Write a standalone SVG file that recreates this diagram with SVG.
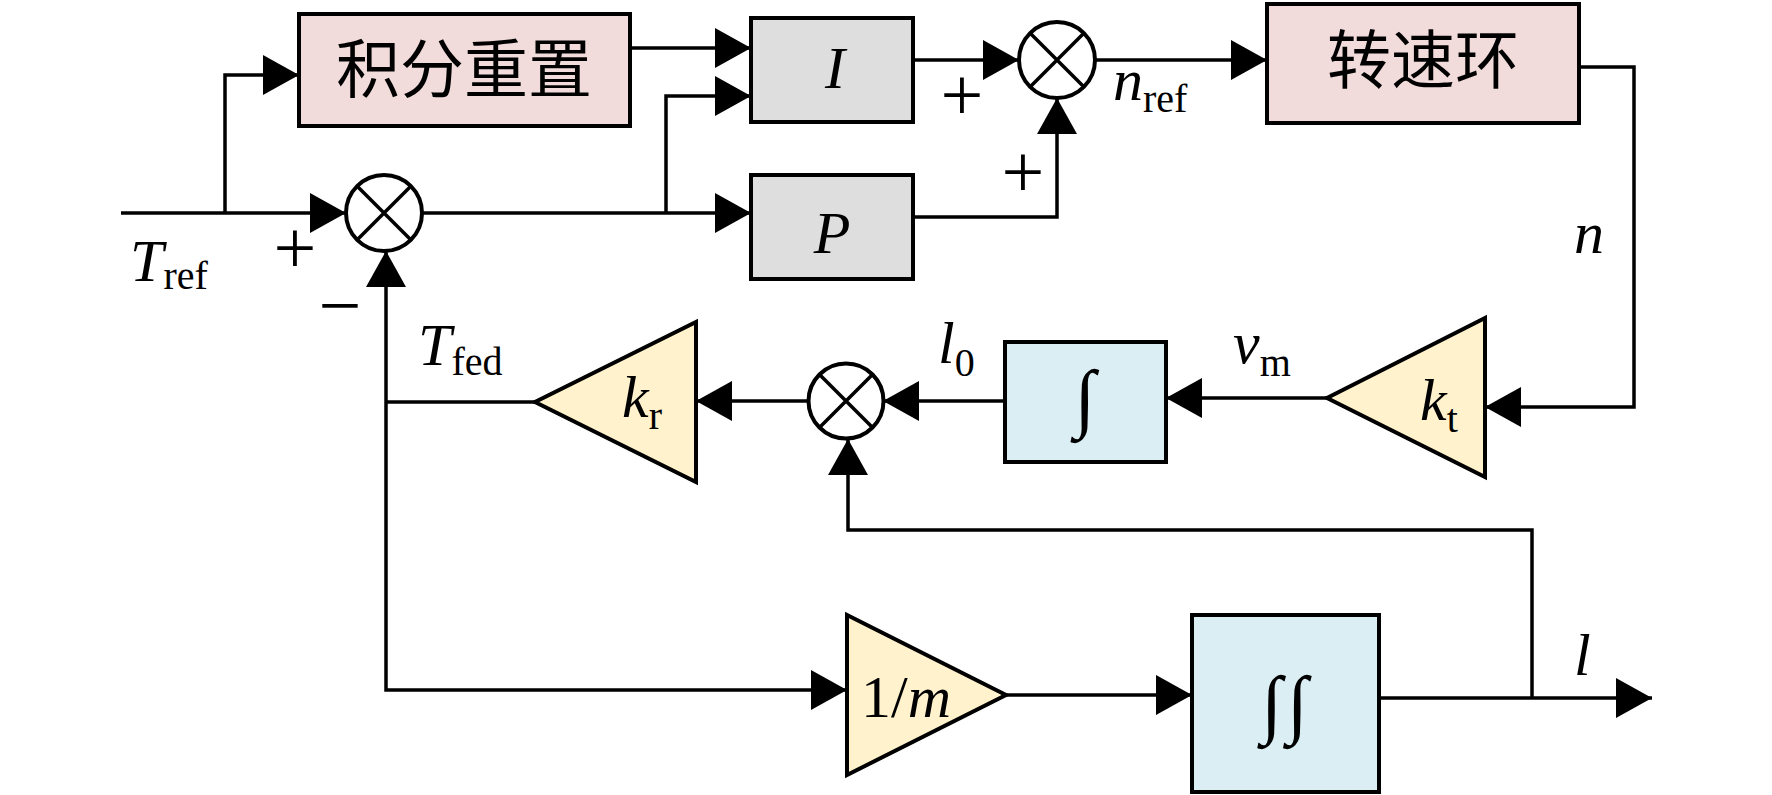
<svg xmlns="http://www.w3.org/2000/svg" width="1772" height="795" viewBox="0 0 1772 795">
<style>
.box{stroke:#000;stroke-width:4}
.pink{fill:#f2dcdb}
.gray{fill:#dedede}
.blue{fill:#daeef3}
.yel{fill:#fff2cc}
.ln{fill:none;stroke:#000;stroke-width:3.5;marker-end:url(#ah)}
.nl{fill:none;stroke:#000;stroke-width:3.5}
.sum{fill:#fff;stroke:#000;stroke-width:4}
.x{stroke:#000;stroke-width:3.5}
.v{font-family:"Liberation Serif",serif;font-style:italic;font-size:60px}
.r{font-family:"Liberation Serif",serif;font-size:60px}
.pm{font-family:"Liberation Serif",serif;font-size:76px}
.sub{font-family:"Liberation Serif",serif;font-style:normal;font-size:40px}
.cn{font-family:"Liberation Serif","Noto Sans CJK SC",sans-serif;font-size:64px}
.int{font-family:"Liberation Serif","DejaVu Serif",serif;font-size:76px}
</style>
<defs>
<marker id="ah" markerUnits="userSpaceOnUse" markerWidth="36" markerHeight="40" refX="36" refY="20" orient="auto" viewBox="0 0 36 40">
<path d="M0,0 L36,20 L0,40 z" fill="#000"/>
</marker>
</defs>
<g id="connectors">
<path class="ln" d="M121,213 H346"/>
<path class="ln" d="M225,213 V75 H299"/>
<path class="ln" d="M630,48 H751"/>
<path class="ln" d="M423,213 H751"/>
<path class="ln" d="M666,213 V96 H751"/>
<path class="ln" d="M913,60 H1019"/>
<path class="ln" d="M913,217 H1057 V98"/>
<path class="ln" d="M1096,60 H1267"/>
<path class="ln" d="M1579,67 H1634 V407 H1485"/>
<path class="ln" d="M1327,398 H1166"/>
<path class="ln" d="M1005,401 H883"/>
<path class="ln" d="M808,401 H696"/>
<path class="nl" d="M535,402 H386"/>
<path class="ln" d="M386,402 V251"/>
<path class="ln" d="M386,402 V690 H847"/>
<path class="ln" d="M1006,695 H1192"/>
<path class="ln" d="M1379,698 H1652"/>
<path class="ln" d="M1532,698 V530 H848 V439"/>
</g>
<g id="reset">
<rect class="box pink" x="299" y="14" width="331" height="112"/>
<text class="cn" x="464" y="70" text-anchor="middle" dominant-baseline="central">积分重置</text>
</g>
<g id="I">
<rect class="box gray" x="751" y="18" width="162" height="104"/>
<text class="v" x="835" y="88" text-anchor="middle">I</text>
</g>
<g id="P">
<rect class="box gray" x="751" y="175" width="162" height="104"/>
<text class="v" x="832" y="253" text-anchor="middle">P</text>
</g>
<g id="speed">
<rect class="box pink" x="1267" y="4" width="312" height="119"/>
<text class="cn" x="1423" y="61" text-anchor="middle" dominant-baseline="central">转速环</text>
</g>
<g id="sum1">
<circle class="sum" cx="384" cy="213" r="38"/>
<path class="x" d="M357,186 L411,240 M411,186 L357,240"/>
</g>
<g id="sum2">
<circle class="sum" cx="1057" cy="60" r="38"/>
<path class="x" d="M1030,33 L1084,87 M1084,33 L1030,87"/>
</g>
<g id="sum3">
<circle class="sum" cx="846" cy="401" r="37.5"/>
<path class="x" d="M819,374 L873,428 M873,374 L819,428"/>
</g>
<g id="kt">
<polygon class="box yel" points="1485,318 1485,477 1327,398"/>
<text class="v" x="1420" y="420">k<tspan class="sub" dy="12">t</tspan></text>
</g>
<g id="int1">
<rect class="box blue" x="1005" y="342" width="161" height="120"/>
<text class="int" x="1085" y="397" text-anchor="middle" dominant-baseline="central">∫</text>
</g>
<g id="kr">
<polygon class="box yel" points="696,322 696,482 535,402"/>
<text class="v" x="622" y="417">k<tspan class="sub" dy="12">r</tspan></text>
</g>
<g id="invm">
<polygon class="box yel" points="847,615 847,775 1006,695"/>
<text class="r" x="861" y="717">1/<tspan class="v">m</tspan></text>
</g>
<g id="int2">
<rect class="box blue" x="1192" y="615" width="187" height="177"/>
<text class="int" x="1287" y="703" text-anchor="middle" dominant-baseline="central" letter-spacing="5">∫∫</text>
</g>
<g id="labels">
<text class="v" x="130" y="281">T<tspan class="sub" dy="8">ref</tspan></text>
<text class="pm" x="295" y="273" text-anchor="middle">+</text>
<text class="pm" x="340" y="331" text-anchor="middle">−</text>
<text class="pm" x="962" y="120" text-anchor="middle">+</text>
<text class="pm" x="1023" y="197" text-anchor="middle">+</text>
<text class="v" x="1113" y="100">n<tspan class="sub" dy="12">ref</tspan></text>
<text class="v" x="1574" y="253">n</text>
<text class="v" x="1233" y="363">v<tspan class="sub" dy="13">m</tspan></text>
<text class="v" x="938" y="363">l<tspan class="sub" dy="13">0</tspan></text>
<text class="v" x="418" y="365">T<tspan class="sub" dy="10">fed</tspan></text>
<text class="v" x="1574" y="675">l</text>
</g>
</svg>
